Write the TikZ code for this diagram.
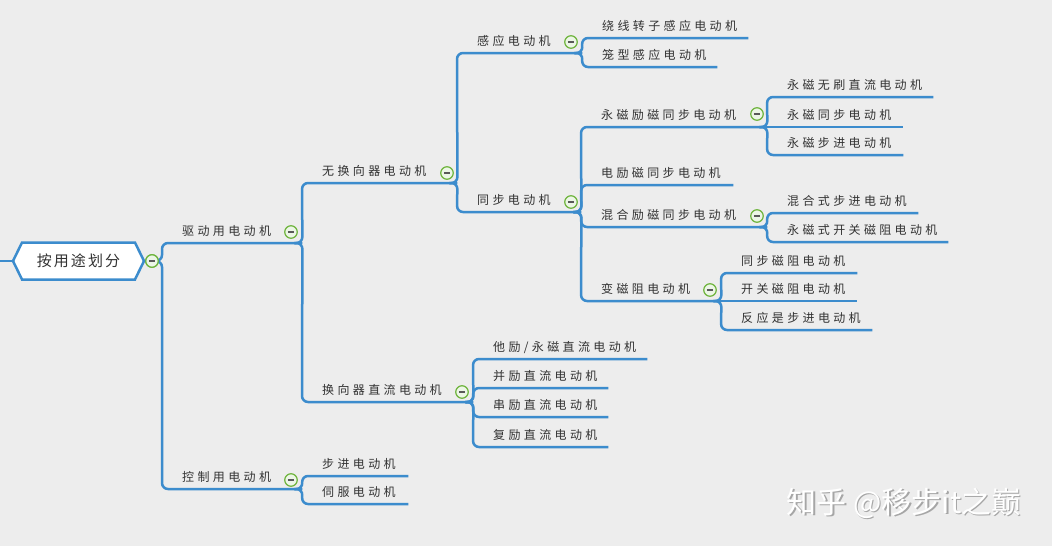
\documentclass[tikz,border=0pt]{standalone}
\usepackage{fontspec}
\setmainfont{Noto Sans CJK SC}
\newfontfamily\topicfont[LetterSpace=28]{Noto Sans CJK SC}
\newfontfamily\rootfont[LetterSpace=14]{Noto Sans CJK SC}
\newfontfamily\wmfont{Noto Sans CJK SC}
\usetikzlibrary{shapes.symbols}
\definecolor{bg}{RGB}{237,237,237}
\definecolor{linecol}{RGB}{60,140,205}
\definecolor{iconcol}{RGB}{110,180,60}
\definecolor{iconfill}{RGB}{236,246,230}
\definecolor{txt}{RGB}{50,50,50}
\newcommand\mmtopic[5]{\node[topic] (#1) at (#2,#3) {\makebox[\dimexpr #4pt-#2pt\relax][l]{\hspace*{20pt}#5}};}
\newcommand\mmlink[2]{\draw[conn] ([xshift=-8pt]#1.south east) -- (#1.south east) -- (#2.south west) -- (#2.south east);}
\newcommand\mmstraight[2]{\draw[conn] (#1.south east) -- (#2.south east);}
\tikzset{
  topic/.style={anchor=south west, inner xsep=0pt, inner ysep=7pt, text depth=0pt, text=txt,
    font=\topicfont\fontsize{12pt}{14pt}\selectfont},
  conn/.style={draw=linecol, line width=2.5pt, rounded corners=6pt},
  icon/.style={circle, draw=iconcol, fill=iconfill, line width=1.2pt, minimum size=12.5pt, inner sep=0pt,
    path picture={\draw[line width=1.1pt, draw=black!65] ([xshift=3pt]path picture bounding box.west) -- ([xshift=-3pt]path picture bounding box.east);}},
  rootbox/.style={signal, signal to=east and west, signal pointer angle=128, draw=linecol, fill=white,
    line width=2.5pt, minimum width=131pt, minimum height=37pt, inner sep=0pt, text=txt,
    font=\rootfont\fontsize{15pt}{18pt}\selectfont},
  wm/.style={font=\wmfont\fontsize{30pt}{34pt}\selectfont, inner sep=0pt}
}
\begin{document}
\begin{tikzpicture}[x=1pt,y=-1pt]
\fill[bg] (0,0) rectangle (1052,546);
\useasboundingbox (0,0) rectangle (1052,546);

% root
\node[rootbox] (root) at (78.5,261) {按用途划分};
\coordinate (edge) at (0,261);
\node[icon] (root-i) at (152,261) {};

% level 1
\mmtopic{drive}{162}{243}{302}{驱动用电动机}
\mmtopic{ctrl}{162}{489}{302}{控制用电动机}
% drive children
\mmtopic{nocomm}{302}{183}{457}{无换向器电动机}
\mmtopic{comm}{302}{402}{473}{换向器直流电动机}
% nocomm children
\mmtopic{induct}{457}{53}{582}{感应电动机}
\mmtopic{sync}{457}{212}{581}{同步电动机}
% induct children
\mmtopic{wound}{582}{38}{748}{绕线转子感应电动机}
\mmtopic{cage}{582}{67}{717}{笼型感应电动机}
% sync children
\mmtopic{pmsync}{581}{127}{767}{永磁励磁同步电动机}
\mmtopic{eesync}{581}{185}{733}{电励磁同步电动机}
\mmtopic{hybsync}{581}{227}{767}{混合励磁同步电动机}
\mmtopic{vrm}{581}{301}{721}{变磁阻电动机}
% pmsync children
\mmtopic{bldc}{767}{97}{933}{永磁无刷直流电动机}
\mmtopic{pmsm}{767}{127}{903}{永磁同步电动机}
\mmtopic{pmstep}{767}{155}{903}{永磁步进电动机}
% hybsync children
\mmtopic{hybstep}{767}{213}{918}{混合式步进电动机}
\mmtopic{pmsr}{767}{242}{948}{永磁式开关磁阻电动机}
% vrm children
\mmtopic{synrel}{721}{273}{857}{同步磁阻电动机}
\mmtopic{srm}{721}{301}{857}{开关磁阻电动机}
\mmtopic{vrstep}{721}{330}{872}{反应是步进电动机}
% comm children
\mmtopic{sepdc}{473}{359}{647}{他励/永磁直流电动机}
\mmtopic{shunt}{473}{388}{608}{并励直流电动机}
\mmtopic{series}{473}{417}{608}{串励直流电动机}
\mmtopic{compound}{473}{447}{608}{复励直流电动机}
% ctrl children
\mmtopic{stepper}{302}{476}{408}{步进电动机}
\mmtopic{servo}{302}{504}{408}{伺服电动机}

% connectors
\draw[conn] (edge) -- (root.west);
\draw[conn] (root.east) -- (root-i.west);
\draw[conn] (root-i.east) -- (drive.south west |- root-i.east) -- (drive.south west) -- (drive.south east);
\draw[conn] (root-i.east) -- (ctrl.south west |- root-i.east) -- (ctrl.south west) -- (ctrl.south east);
\mmlink{drive}{nocomm}
\mmlink{drive}{comm}
\mmlink{nocomm}{induct}
\mmlink{nocomm}{sync}
\mmlink{induct}{wound}
\mmlink{induct}{cage}
\mmlink{sync}{pmsync}
\mmlink{sync}{eesync}
\mmlink{sync}{hybsync}
\mmlink{sync}{vrm}
\mmlink{pmsync}{bldc}
\mmstraight{pmsync}{pmsm}
\mmlink{pmsync}{pmstep}
\mmlink{hybsync}{hybstep}
\mmlink{hybsync}{pmsr}
\mmlink{vrm}{synrel}
\mmstraight{vrm}{srm}
\mmlink{vrm}{vrstep}
\mmlink{comm}{sepdc}
\mmlink{comm}{shunt}
\mmlink{comm}{series}
\mmlink{comm}{compound}
\mmlink{ctrl}{stepper}
\mmlink{ctrl}{servo}

% collapse icons
\node[icon] (root-i2) at (152,261) {};
\node[icon] (drive-i) at (291,232) {};
\node[icon] (nocomm-i) at (447,173) {};
\node[icon] (induct-i) at (571,42) {};
\node[icon] (sync-i) at (571,202) {};
\node[icon] (pmsync-i) at (757,114) {};
\node[icon] (hybsync-i) at (757,216) {};
\node[icon] (vrm-i) at (710,290) {};
\node[icon] (comm-i) at (462,392) {};
\node[icon] (ctrl-i) at (291,480) {};

% watermark
\node[wm, text=black!35] (wm-s) at (905.5,504.5) {知乎 @移步it之巅};
\node[wm, text=white] (wm) at (904,503) {知乎 @移步it之巅};
\end{tikzpicture}
\end{document}
